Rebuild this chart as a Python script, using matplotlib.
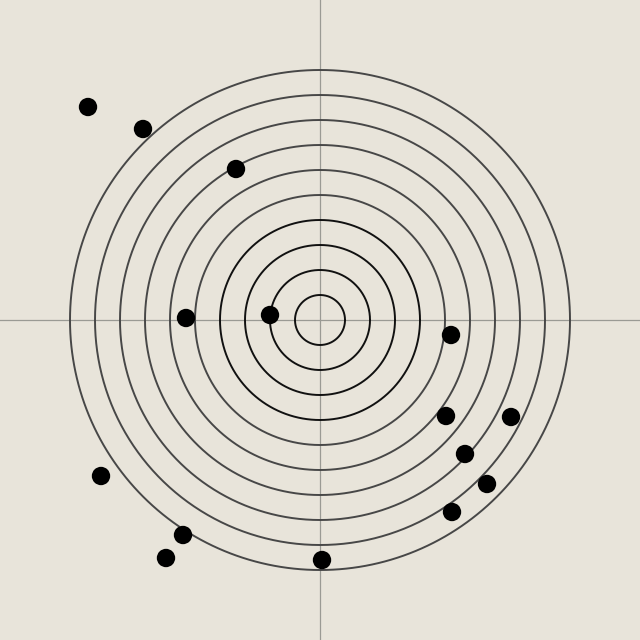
#!/usr/bin/env python3
# -*- coding: utf-8 -*-

import matplotlib
matplotlib.use("Agg")
import matplotlib.pyplot as plt
import numpy as np

# point positions (units relative to the centre)
xs = [-232, -177, -84, -134, -50, 131, 126, 191, 145, 167, 132, -219, -137, -154, 2]
ys = [213, 191, 151, 2, 5, -15, -96, -97, -134, -164, -192, -156, -215, -238, -240]

# ring radii
radii = [25, 50, 75, 100, 125, 150, 175, 200, 225, 250]

BG = "#e8e4da"


def main():
    fig = plt.figure(figsize=(6.4, 6.4), dpi=100, facecolor=BG)
    ax = fig.add_axes([0, 0, 1, 1])
    ax.set_facecolor(BG)
    ax.set_xlim(-320, 320)
    ax.set_ylim(-320, 320)
    ax.set_aspect("equal")
    ax.axis("off")

    # crosshair
    ax.axhline(0, color="#9a9a94", lw=0.9, zorder=1)
    ax.axvline(0, color="#9a9a94", lw=0.9, zorder=1)

    t = np.linspace(0, 2 * np.pi, 721)
    for r in radii:
        col = "#111111" if r <= 100 else "#474747"
        ax.plot(r * np.cos(t), r * np.sin(t), color=col, lw=1.4, zorder=2)

    ax.scatter(xs, ys, s=175, color="black", edgecolors="none", zorder=3)

    fig.savefig("out.png", dpi=100, facecolor=BG)


if __name__ == "__main__":
    main()
